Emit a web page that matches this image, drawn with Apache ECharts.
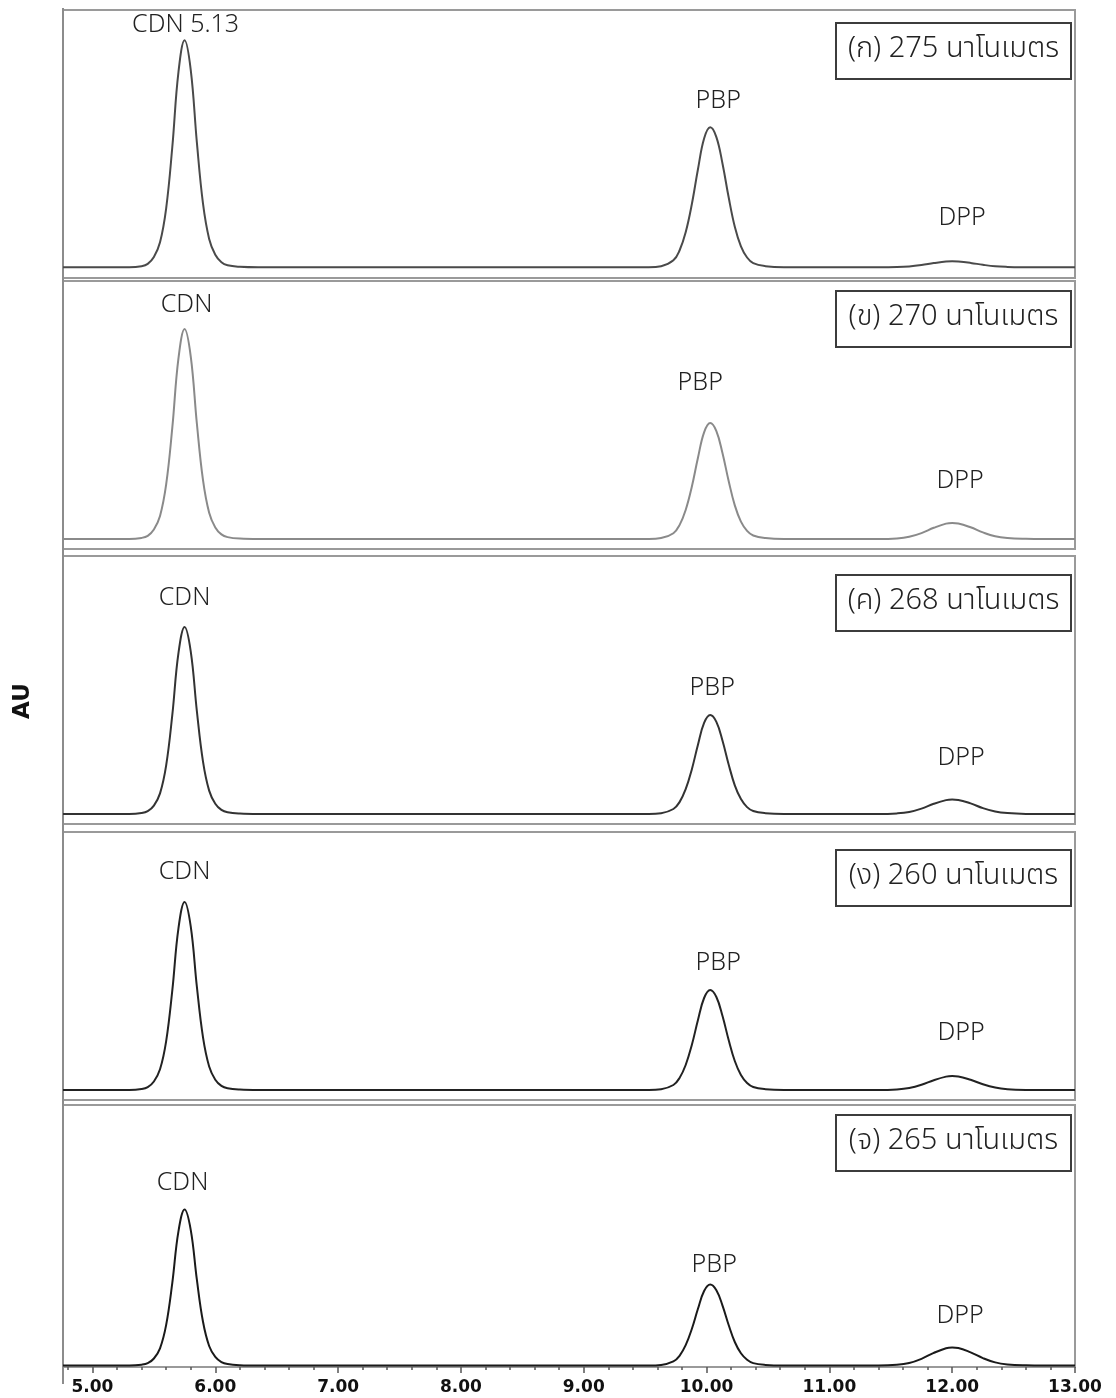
<!DOCTYPE html>
<html>
<head>
<meta charset="utf-8">
<script src="https://cdn.jsdelivr.net/npm/echarts@6/dist/echarts.min.js"></script>
<style>
  html, body { margin: 0; padding: 0; background: #fff; }
  #chart { width: 1116px; height: 1398px; }
</style>
</head>
<body>
<div id="chart"></div>
<script>
// Retention time (min) shared by all five detector traces
const retentionTime = [
  4.76, 5.00,
  5.30, 5.40, 5.45, 5.50, 5.55, 5.60, 5.65, 5.70, 5.75, 5.80, 5.85, 5.90, 5.95, 6.00, 6.05, 6.10, 6.20, 6.35,
  7.00, 8.00, 9.00,
  9.53, 9.63, 9.73, 9.78, 9.83, 9.88, 9.93, 9.98, 10.03, 10.08, 10.13, 10.18, 10.23, 10.28, 10.33, 10.38, 10.48, 10.63,
  11.00,
  11.40, 11.55, 11.65, 11.75, 11.85, 11.95, 12.00, 12.05, 12.15, 12.25, 12.35, 12.45, 12.60, 12.75,
  13.00
];

// Absorbance (AU) at each wavelength
const absorbance275 = [
  0, 0,
  0, 0.0011, 0.0034, 0.0102, 0.0250, 0.0590, 0.1203, 0.1952, 0.2270, 0.1975, 0.1249, 0.0636, 0.0284, 0.0125, 0.0050, 0.0020, 0.0005, 0,
  0, 0, 0,
  0, 0.0011, 0.0070, 0.0168, 0.0350, 0.0630, 0.0980, 0.1288, 0.1400, 0.1302, 0.1036, 0.0700, 0.0406, 0.0210, 0.0098, 0.0042, 0.0011, 0,
  0,
  0, 0.0002, 0.0008, 0.0022, 0.0042, 0.0058, 0.0060, 0.0058, 0.0044, 0.0025, 0.0010, 0.0004, 0.0001, 0,
  0
];
const absorbance270 = [
  0, 0,
  0, 0.0011, 0.0032, 0.0095, 0.0231, 0.0546, 0.1113, 0.1806, 0.2100, 0.1827, 0.1155, 0.0588, 0.0263, 0.0116, 0.0046, 0.0019, 0.0004, 0,
  0, 0, 0,
  0, 0.0009, 0.0058, 0.0139, 0.0290, 0.0522, 0.0812, 0.1067, 0.1160, 0.1079, 0.0858, 0.0580, 0.0336, 0.0174, 0.0081, 0.0035, 0.0009, 0,
  0,
  0, 0.0006, 0.0022, 0.0059, 0.0112, 0.0154, 0.0160, 0.0155, 0.0117, 0.0066, 0.0027, 0.0010, 0.0002, 0,
  0
];
const absorbance268 = [
  0, 0,
  0, 0.0009, 0.0028, 0.0084, 0.0206, 0.0486, 0.0991, 0.1608, 0.1870, 0.1627, 0.1029, 0.0524, 0.0234, 0.0103, 0.0041, 0.0017, 0.0004, 0,
  0, 0, 0,
  0, 0.0008, 0.0050, 0.0119, 0.0248, 0.0446, 0.0693, 0.0911, 0.0990, 0.0921, 0.0733, 0.0495, 0.0287, 0.0149, 0.0069, 0.0030, 0.0008, 0,
  0,
  0, 0.0006, 0.0020, 0.0054, 0.0102, 0.0139, 0.0145, 0.0141, 0.0106, 0.0059, 0.0025, 0.0009, 0.0001, 0,
  0
];
const absorbance260 = [
  0, 0,
  0, 0.0009, 0.0028, 0.0085, 0.0207, 0.0489, 0.0996, 0.1617, 0.1880, 0.1636, 0.1034, 0.0526, 0.0235, 0.0103, 0.0041, 0.0017, 0.0004, 0,
  0, 0, 0,
  0, 0.0008, 0.0050, 0.0120, 0.0250, 0.0450, 0.0700, 0.0920, 0.1000, 0.0930, 0.0740, 0.0500, 0.0290, 0.0150, 0.0070, 0.0030, 0.0008, 0,
  0,
  0, 0.0006, 0.0020, 0.0052, 0.0098, 0.0134, 0.0140, 0.0136, 0.0102, 0.0057, 0.0024, 0.0008, 0.0001, 0,
  0
];
const absorbance265 = [
  0, 0,
  0, 0.0008, 0.0023, 0.0070, 0.0172, 0.0406, 0.0827, 0.1342, 0.1560, 0.1357, 0.0858, 0.0437, 0.0195, 0.0086, 0.0034, 0.0014, 0.0003, 0,
  0, 0, 0,
  0, 0.0006, 0.0041, 0.0097, 0.0203, 0.0365, 0.0567, 0.0745, 0.0810, 0.0753, 0.0599, 0.0405, 0.0235, 0.0122, 0.0057, 0.0024, 0.0006, 0,
  0,
  0, 0.0007, 0.0025, 0.0067, 0.0126, 0.0173, 0.0180, 0.0175, 0.0131, 0.0074, 0.0031, 0.0011, 0.0002, 0,
  0
];

const traces = [absorbance275, absorbance270, absorbance268, absorbance260, absorbance265];
const panelTitles = ['(ก) 275 นาโนเมตร', '(ข) 270 นาโนเมตร', '(ค) 268 นาโนเมตร', '(ง) 260 นาโนเมตร', '(จ) 265 นาโนเมตร'];
const peakTimes = [5.75, 10.03, 12.00];
const peakNames = ['CDN', 'PBP', 'DPP'];
const firstPanelPeakNames = ['CDN 5.13', 'PBP', 'DPP'];
const xTickValues = [5, 6, 7, 8, 9, 10, 11, 12, 13];
const xMinorTickValues = [4.8, 5.2, 5.4, 5.6, 5.8, 6.2, 6.4, 6.6, 6.8, 7.2, 7.4, 7.6, 7.8, 8.2, 8.4, 8.6, 8.8,
  9.2, 9.4, 9.6, 9.8, 10.2, 10.4, 10.6, 10.8, 11.2, 11.4, 11.6, 11.8, 12.2, 12.4, 12.6, 12.8];

// ---- layout (pixels) ----
const PLOT_LEFT = 63, PLOT_RIGHT = 41;
const X_MIN = 4.76, X_MAX = 13.0;
const PX_PER_AU = 1000;
const panels = [
  { top: 10,   bottom: 278,  base: 267.3, color: '#4a4a4a', box: 22,   labelOffsets: [[1, -15], [8, -26], [10, -43]] },
  { top: 281,  bottom: 549,  base: 539,   color: '#8a8a8a', box: 290,  labelOffsets: [[2, -24], [-10, -40], [8, -42]] },
  { top: 556,  bottom: 824,  base: 814,   color: '#333333', box: 574,  labelOffsets: [[0, -29], [2, -27], [9, -42]] },
  { top: 832,  bottom: 1100, base: 1090,  color: '#222222', box: 849,  labelOffsets: [[0, -30], [8, -27], [9, -43]] },
  { top: 1105, bottom: 1367, base: 1365.5, color: '#1a1a1a', box: 1114, labelOffsets: [[-2, -27], [4, -20], [8, -32]] }
];

const labelFont = "'Noto Sans', 'DejaVu Sans', sans-serif";
const thaiFont = "'Noto Sans Thai', 'Noto Sans Thai UI', 'Noto Sans', 'DejaVu Sans', sans-serif";

const grid = [], xAxis = [], yAxis = [], series = [], graphic = [];

panels.forEach((p, i) => {
  grid.push({
    left: PLOT_LEFT, right: PLOT_RIGHT, top: p.top, height: p.bottom - p.top,
    show: true, borderColor: '#9a9a9a', borderWidth: 2, backgroundColor: 'transparent'
  });
  xAxis.push({ type: 'value', gridIndex: i, min: X_MIN, max: X_MAX, show: false });
  yAxis.push({
    type: 'value', gridIndex: i, show: false,
    min: -(p.bottom - p.base) / PX_PER_AU,
    max: (p.base - p.top) / PX_PER_AU
  });

  const values = traces[i];
  const names = i === 0 ? firstPanelPeakNames : peakNames;
  series.push({
    type: 'line',
    xAxisIndex: i, yAxisIndex: i,
    data: retentionTime.map((t, k) => [t, values[k]]),
    showSymbol: false,
    smooth: 0.4,
    lineStyle: { color: p.color, width: 2 },
    silent: true,
    markPoint: {
      symbol: 'circle', symbolSize: 0, silent: true,
      data: peakTimes.map((t, j) => ({
        coord: [t, values[retentionTime.indexOf(t)]],
        label: {
          show: true, position: 'inside', offset: p.labelOffsets[j],
          formatter: names[j],
          fontFamily: labelFont, fontSize: 25, fontWeight: 300, color: '#222'
        }
      }))
    }
  });

  // wavelength caption box
  graphic.push({
    type: 'group', left: 835, top: p.box, silent: true,
    children: [
      { type: 'rect', shape: { x: 0, y: 0, width: 235, height: 56 },
        style: { fill: '#fff', stroke: '#3c3c3c', lineWidth: 2 } },
      { type: 'text', x: 117.5, y: 28,
        style: { text: panelTitles[i], fill: '#222', font: '300 29px ' + thaiFont,
                 align: 'center', verticalAlign: 'middle' } }
    ]
  });
});

// Time axis under the bottom panel: major ticks with labels, then minor ticks
const last = panels[panels.length - 1];
[
  { values: xTickValues, len: 6, offset: 5, labels: true },
  { values: xMinorTickValues, len: 3, offset: 7, labels: false }
].forEach((ax) => {
  const gi = grid.length;
  grid.push({ left: PLOT_LEFT, right: PLOT_RIGHT, top: last.top, height: last.bottom - last.top, show: false });
  yAxis.push({ type: 'value', gridIndex: gi, show: false, min: 0, max: 1 });
  xAxis.push({
    type: 'value', gridIndex: gi, min: X_MIN, max: X_MAX, position: 'bottom', offset: ax.offset,
    axisLine: { show: false },
    splitLine: { show: false },
    axisTick: { show: true, length: ax.len, customValues: ax.values, lineStyle: { color: '#555', width: 1.5 } },
    axisLabel: {
      show: ax.labels, customValues: ax.values, margin: 7,
      formatter: (v) => v.toFixed(2),
      fontFamily: "'DejaVu Sans', sans-serif", fontWeight: 'bold', fontSize: 17, color: '#111'
    }
  });
});

// Shared left edge running down the full stack
graphic.push({
  type: 'line', silent: true,
  shape: { x1: 63, y1: 8, x2: 63, y2: 1384 },
  style: { stroke: '#8c8c8c', lineWidth: 2 }
});
graphic.push({
  type: 'text', x: 23, y: 701, rotation: Math.PI / 2, silent: true,
  style: { text: 'AU', fill: '#111', font: 'bold 23px "DejaVu Sans", sans-serif', align: 'center', verticalAlign: 'middle' }
});

const chart = echarts.init(document.getElementById('chart'), null, { renderer: 'canvas' });
chart.setOption({
  animation: false,
  backgroundColor: '#fff',
  grid, xAxis, yAxis, series, graphic
});
</script>
</body>
</html>
